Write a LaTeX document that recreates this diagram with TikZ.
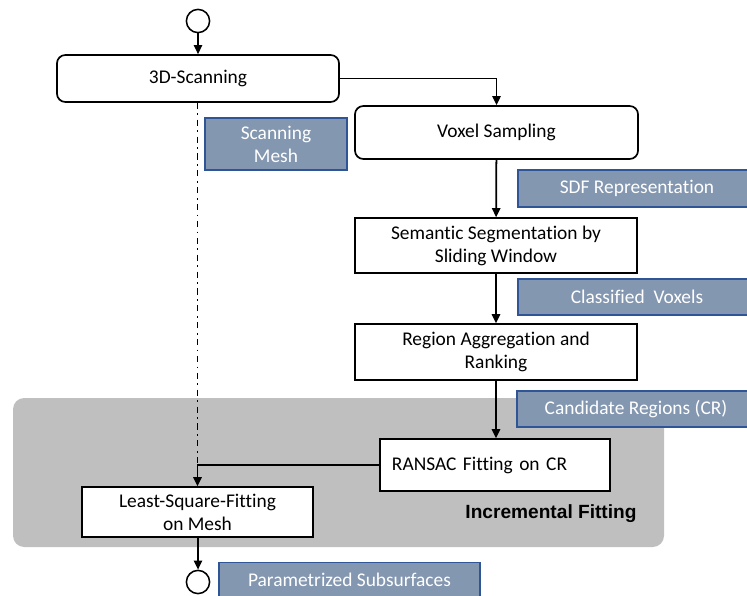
\documentclass[tikz,border=0pt]{standalone}
\usepackage{fontspec}
\setmainfont{Carlito}[Ligatures=NoCommon]
\newfontfamily\arialfont{Liberation Sans}
\usepackage{xcolor}
\usepackage{tikz}
\usetikzlibrary{arrows.meta, shapes.geometric}

\definecolor{tagfill}{HTML}{8497B0}
\definecolor{tagline}{HTML}{2F5597}
\definecolor{areafill}{HTML}{BFBFBF}

\begin{document}
\begin{tikzpicture}[x=0.025cm, y=-0.025cm,
  font=\fontsize{13.8}{16.3}\selectfont,
  >={Triangle[length=6.4pt, width=5.9pt]},
  flow/.style={line width=1.25pt, ->},
  stepround/.style={draw, line width=1.2pt, rounded corners=6pt, inner sep=0pt, align=center},
  stepbox/.style={draw, line width=1.1pt, fill=white, inner sep=0pt, align=center},
  datatag/.style={draw=tagline, line width=0.9pt, fill=tagfill, text=white, inner sep=0pt, align=center},
  terminal/.style={draw, circle, line width=1.1pt, inner sep=0pt, minimum size=0.58cm}]
\useasboundingbox (0,0) rectangle (747,596);
% incremental fitting area
\draw[fill=areafill, draw=none, rounded corners=8pt] (13,398) rectangle (664,547);
\node[font=\arialfont\bfseries\fontsize{13.6}{16}\selectfont] (incfit) at (551,514) {Incremental Fitting};

% steps
\node[terminal] (start) at (198,21) {};
\node[stepround, minimum width=7.05cm, minimum height=1.175cm] (scan) at (198,78.5) {3D-Scanning};
\node[stepround, minimum width=7.075cm, minimum height=1.325cm] (voxel) at (496.5,132.5) {Voxel Sampling};
\node[stepbox, minimum width=7.05cm, minimum height=1.375cm] (seg) at (496,245.5) {Semantic Segmentation by\\Sliding Window};
\node[stepbox, minimum width=7.05cm, minimum height=1.4cm] (agg) at (496,352) {Region Aggregation and\\Ranking};
\node[stepbox, minimum width=5.75cm, minimum height=1.3cm, text width=5.15cm, inner xsep=0.3cm, align=left] (ransac) at (495,465) {RANSAC Fitting on CR};
\node[stepbox, minimum width=5.775cm, minimum height=1.25cm] (lsq) at (197.5,512) {Least-Square-Fitting\\on Mesh};
\node[terminal] (stop) at (198,582) {};

% data tags
\node[datatag, minimum width=3.55cm, minimum height=1.3cm] (mesh) at (276,144) {Scanning\\Mesh};
\node[datatag, minimum width=5.95cm, minimum height=0.925cm] (sdf) at (637,188.5) {SDF Representation};
\node[datatag, minimum width=5.95cm, minimum height=0.9cm] (voxels) at (637,297) {Classified\ \ Voxels};
\node[datatag, minimum width=5.95cm, minimum height=0.9cm] (cr) at (636,409) {Candidate Regions (CR)};
\node[datatag, minimum width=6.525cm, minimum height=0.875cm] (param) at (349.5,580) {Parametrized Subsurfaces};

% connectors
\coordinate (join) at (lsq.north |- ransac.west);
\draw[flow] (start) -- (scan);
\draw[flow] (scan.east) -- (voxel.north |- scan.east) -- (voxel.north);
\draw[flow] (voxel) -- (seg);
\draw[flow] (seg) -- (agg);
\draw[flow] (agg.south) -- (agg.south |- ransac.north);
\draw[line width=1.25pt, dash pattern=on 4.3pt off 3.2pt on 1.3pt off 3.2pt] (scan.south -| join) -- (join);
\draw[flow] (ransac.west) -- (join) -- (lsq.north -| join);
\draw[flow] (lsq.south -| stop) -- (stop);
\end{tikzpicture}
\end{document}
